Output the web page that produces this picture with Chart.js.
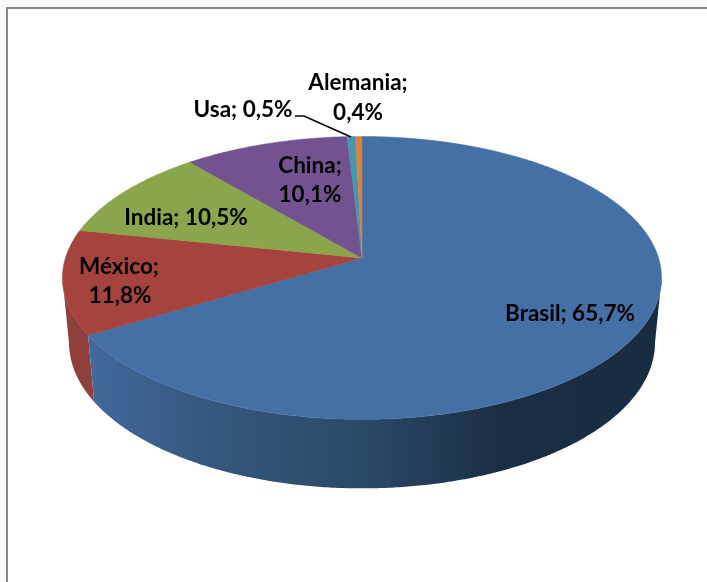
<!DOCTYPE html>
<html>
<head>
<meta charset="utf-8">
<title>Pie 3D</title>
<script src="https://cdn.jsdelivr.net/npm/chart.js@4/dist/chart.umd.min.js"></script>
<style>
  html, body { margin: 0; padding: 0; background: #fafafa; }
  canvas { display: block; }
</style>
</head>
<body>
<canvas id="pieChart" width="707" height="582"></canvas>
<script>
// =========================================
// DATA
// =========================================

const countries = ["Brasil", "México", "India", "China", "Usa", "Alemania"];
const shares = [65.7, 11.8, 10.5, 10.1, 0.5, 0.4];
const sliceColors = ["#4470A6", "#A5433F", "#8AA54B", "#735290", "#4198AF", "#D9813F"];
const wallColors = ["#2A4866", "#8F3F3C", "#71883D", "#5E4376", "#357D90", "#B26A33"];

// =========================================
// LOOK OF THE 3D DISC
// =========================================

const widthFactor = 1.154;
const heightFactor = 0.5395;
const perspective = 0.1408;
const bottomShrink = 0.978;

// label centres, one entry per text line
const labelPlaces = [
  [[570, 314]],
  [[119, 267], [120, 296]],
  [[186, 218]],
  [[310, 166], [310, 195]],
  [[243, 110]],
  [[358, 83], [358, 113]]
];
const labelSplit = [false, true, false, true, false, true];

function shareText(i) {
  const value = shares[i].toFixed(1).replace(".", ",") + "%";
  if (labelSplit[i]) return [countries[i] + ";", value];
  return [countries[i] + "; " + value];
}

// angle on the disc -> point on the picture
function topPoint(arc, angle) {
  const u = Math.cos(angle);
  const v = Math.sin(angle);
  const w = 1 - perspective * v;
  return {
    x: arc.x + arc.outerRadius * widthFactor * u / w,
    y: arc.y + arc.outerRadius * heightFactor * v / w,
    v: v
  };
}

function bottomPoint(arc, angle) {
  const p = topPoint(arc, angle);
  return {
    x: arc.x + (p.x - arc.x) * bottomShrink,
    y: p.y + 64 + 5 * p.v
  };
}

function rimAngles(arc) {
  const list = [];
  const steps = Math.max(4, Math.ceil((arc.endAngle - arc.startAngle) * 120));
  for (let i = 0; i <= steps; i++) {
    list.push(arc.startAngle + (arc.endAngle - arc.startAngle) * i / steps);
  }
  return list;
}

function drawWall(ctx, arc, index) {
  // the wall starts where the disc edge is widest
  const front = rimAngles(arc).filter(a => Math.sin(a) >= perspective);
  if (front.length < 2) return;

  ctx.beginPath();
  front.forEach((a, i) => {
    const p = topPoint(arc, a);
    if (i === 0) ctx.moveTo(p.x, p.y);
    else ctx.lineTo(p.x, p.y);
  });
  front.slice().reverse().forEach(a => {
    const p = bottomPoint(arc, a);
    ctx.lineTo(p.x, p.y);
  });
  ctx.closePath();

  if (index === 0) {
    const shade = ctx.createLinearGradient(90, 0, 662, 0);
    shade.addColorStop(0, "#41699A");
    shade.addColorStop(0.2, "#35587F");
    shade.addColorStop(0.47, "#2B4A68");
    shade.addColorStop(0.72, "#1B2D44");
    shade.addColorStop(1, "#1A2C41");
    ctx.fillStyle = shade;
  } else {
    ctx.fillStyle = wallColors[index];
  }
  ctx.fill();
}

function drawTop(ctx, arc, index) {
  ctx.beginPath();
  ctx.moveTo(arc.x, arc.y);
  rimAngles(arc).forEach(a => {
    const p = topPoint(arc, a);
    ctx.lineTo(p.x, p.y);
  });
  ctx.closePath();
  ctx.fillStyle = sliceColors[index];
  ctx.fill();
  ctx.strokeStyle = sliceColors[index];
  ctx.lineWidth = 0.5;
  ctx.stroke();
}

// =========================================
// PLUGINS
// =========================================

const framePlugin = {
  id: "frame",
  beforeDraw(chart) {
    const ctx = chart.ctx;
    ctx.save();
    ctx.fillStyle = "#FFFFFF";
    ctx.fillRect(8, 9, 699, 573);
    ctx.fillStyle = "#888888";
    ctx.fillRect(6, 7, 701, 2);
    ctx.fillRect(6, 7, 2, 575);
    ctx.restore();
  }
};

const discPlugin = {
  id: "disc",
  beforeDatasetsDraw(chart) {
    const ctx = chart.ctx;
    const arcs = chart.getDatasetMeta(0).data;
    ctx.save();
    [1, 0].forEach(i => drawWall(ctx, arcs[i], i));
    arcs.forEach((arc, i) => drawTop(ctx, arc, i));
    ctx.restore();
    return false;
  },
  afterDraw(chart) {
    const ctx = chart.ctx;
    ctx.save();

    // leader line of Usa
    ctx.strokeStyle = "#000000";
    ctx.lineWidth = 1.5;
    ctx.beginPath();
    ctx.moveTo(295, 116);
    ctx.lineTo(304, 116);
    ctx.lineTo(351, 137);
    ctx.stroke();

    ctx.fillStyle = "#000000";
    ctx.font = "bold 22.5px Lato";
    ctx.textAlign = "center";
    ctx.textBaseline = "middle";
    countries.forEach((name, i) => {
      shareText(i).forEach((line, j) => {
        ctx.fillText(line, labelPlaces[i][j][0], labelPlaces[i][j][1]);
      });
    });
    ctx.restore();
  }
};

// =========================================
// PIE CHART
// =========================================

new Chart(document.getElementById("pieChart"), {
  type: "pie",
  data: {
    labels: countries,
    datasets: [{
      data: shares,
      backgroundColor: sliceColors
    }]
  },
  options: {
    responsive: false,
    animation: false,
    layout: { padding: { left: 17, right: 0, top: 0, bottom: 66 } },
    plugins: {
      legend: { display: false },
      tooltip: { enabled: false }
    }
  },
  plugins: [framePlugin, discPlugin]
});
</script>
</body>
</html>
